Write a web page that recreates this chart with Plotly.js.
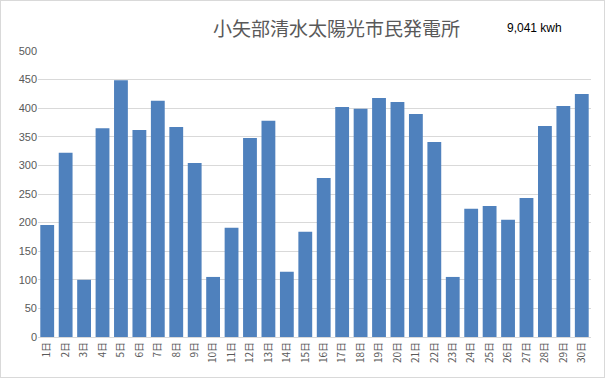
<!DOCTYPE html>
<html><head><meta charset="utf-8">
<script src="https://cdn.plot.ly/plotly-3.0.1.min.js"></script>
<style>html,body{margin:0;padding:0;background:#fff}#c{width:605px;height:378px;box-sizing:border-box;border:1px solid #d9d9d9}</style>
</head><body><div id="c"></div>
<script>
const days = ["1日","2日","3日","4日","5日","6日","7日","8日","9日","10日","11日","12日","13日","14日","15日","16日","17日","18日","19日","20日","21日","22日","23日","24日","25日","26日","27日","28日","29日","30日"];
const kwh = [196,322,100,365,449,362,413,367,304,105,191,348,378,114,184,278,402,399,418,411,390,341,105,224,229,205,243,369,404,425];
const titleText = "小矢部清水太陽光市民発電所";
const totalText = "9,041 kwh";
const yTicks = [0,50,100,150,200,250,300,350,400,450,500];

const font = "'Noto Sans CJK JP', 'Noto Sans', sans-serif";
Plotly.newPlot('c', [{
  type:'bar', x: days, y: kwh,
  marker:{color:'#4F81BD'}, hoverinfo:'skip'
}], {
  width:603, height:376,
  margin:{l:37, r:13, t:50, b:40, pad:0},
  paper_bgcolor:'#fff', plot_bgcolor:'#fff',
  bargap:0.25,
  showlegend:false,
  xaxis:{tickangle:-90, tickfont:{family:font,size:10,color:'#595959'}, showgrid:false,
    showline:true, linecolor:'#d9d9d9', linewidth:1, ticks:'', fixedrange:true},
  yaxis:{range:[0,500], tickvals:yTicks, tickfont:{family:"'Liberation Sans', Arial, sans-serif",size:11,color:'#595959'},
    gridcolor:'#d9d9d9', gridwidth:1, zeroline:false, showline:false, ticks:'', ticklen:0, fixedrange:true},
  annotations:[
    {text:titleText, xref:'paper', yref:'paper', x:0.539, y:1, yshift:24, xanchor:'center', yanchor:'middle',
     showarrow:false, font:{family:font, size:19, color:'#595959'}},
    {text:totalText, xref:'paper', yref:'paper', x:0.845, y:1, yshift:23, xanchor:'left', yanchor:'middle',
     showarrow:false, font:{family:"'Liberation Sans', Arial, sans-serif", size:12, color:'#000'}}
  ]
}, {staticPlot:true});
</script></body></html>
